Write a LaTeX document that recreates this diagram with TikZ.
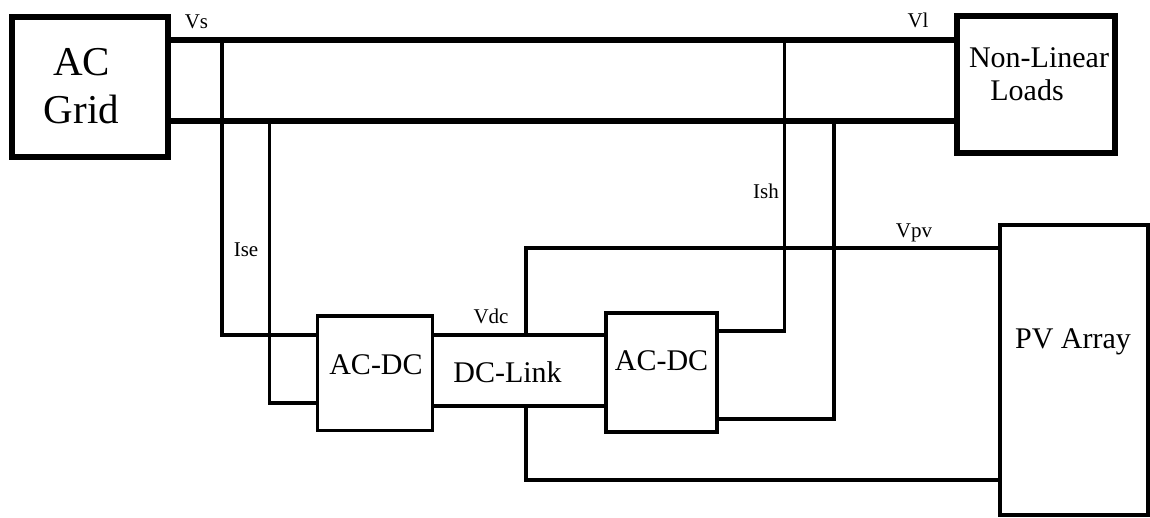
\documentclass[tikz,border=0pt]{standalone}
\usepackage{fontspec}
\setmainfont{Liberation Serif}
\begin{document}
\begin{tikzpicture}[x=1pt,y=-1pt,
  box/.style={draw, inner sep=0pt, line width=3.5pt},
  heavybox/.style={box, line width=6pt},
  heavy/.style={line width=6pt},
  wire/.style={line width=3.5pt, line join=miter},
  lbl/.style={font=\fontsize{21}{21}\selectfont, anchor=base, inner sep=0pt},
  txt/.style={font=\fontsize{30}{30}\selectfont, anchor=base, inner sep=0pt},
  huge/.style={font=\fontsize{41}{41}\selectfont, anchor=base, inner sep=0pt}]
\useasboundingbox[fill=white] (0,0) rectangle (1150,517);
% boxes
\node[heavybox, minimum width=156pt, minimum height=140pt] (grid) at (90,87) {};
\node[heavybox, minimum width=158pt, minimum height=137pt] (nll) at (1036,84) {};
\node[box, minimum width=115pt, minimum height=114.5pt] (c1) at (375,373.25) {};
\node[box, minimum width=111pt, minimum height=119pt] (c2) at (661.5,372.5) {};
\node[box, minimum width=148pt, minimum height=290pt] (pv) at (1074,370) {};
% reference coordinates
\coordinate (yt) at (0,40);
\coordinate (yb) at (0,120.5);
\coordinate (dt) at (0,335);
\coordinate (db) at (0,403);
\coordinate (dl) at (0,406);
\coordinate (r1) at (0,331);
\coordinate (r2) at (0,419);
\coordinate (vp) at (0,248);
\coordinate (vb) at (0,480);
\coordinate (ta) at (222,40);
\coordinate (tb) at (269.5,120.5);
\coordinate (tc) at (784.5,40);
\coordinate (td) at (834,120.5);
\coordinate (j1) at (526,335);
\coordinate (j2) at (526,406);
% buses
\draw[heavy] (grid.east |- yt) -- (nll.west |- yt);
\draw[heavy] (grid.east |- yb) -- (nll.west |- yb);
% series converter links
\draw[wire] (ta) |- (c1.west |- dt);
\draw[wire] (tb) |- (c1.west |- db);
% shunt converter links
\draw[wire] (c2.east |- r1) -| (tc);
\draw[wire] (c2.east |- r2) -| (td);
% DC link
\draw[wire] (c1.east |- dt) -- (c2.west |- dt);
\draw[wire] (c1.east |- dl) -- (c2.west |- dl);
% PV connections
\draw[wire] (j1) |- (pv.west |- vp);
\draw[wire] (j2) |- (pv.west |- vb);
% texts
\node[huge] (tAC) at (81.5,75) {AC};
\node[huge] (tGrid) at (81.5,123) {Grid};
\node[txt] (tNL) at (1039,67) {Non-Linear};
\node[txt] (tLoads) at (1027,100) {Loads};
\node[txt] (tc1) at (376,374) {AC-DC};
\node[txt] (tdc) at (507.5,382) {DC-Link};
\node[txt] (tc2) at (661.5,370) {AC-DC};
\node[txt] (tpv) at (1073,348) {PV Array};
\node[lbl] (lVs) at (196.5,28) {Vs};
\node[lbl] (lVl) at (918,27) {Vl};
\node[lbl] (lIse) at (246,256) {Ise};
\node[lbl] (lIsh) at (766,198) {Ish};
\node[lbl] (lVdc) at (491,323) {Vdc};
\node[lbl] (lVpv) at (914,237) {Vpv};
\end{tikzpicture}
\end{document}
